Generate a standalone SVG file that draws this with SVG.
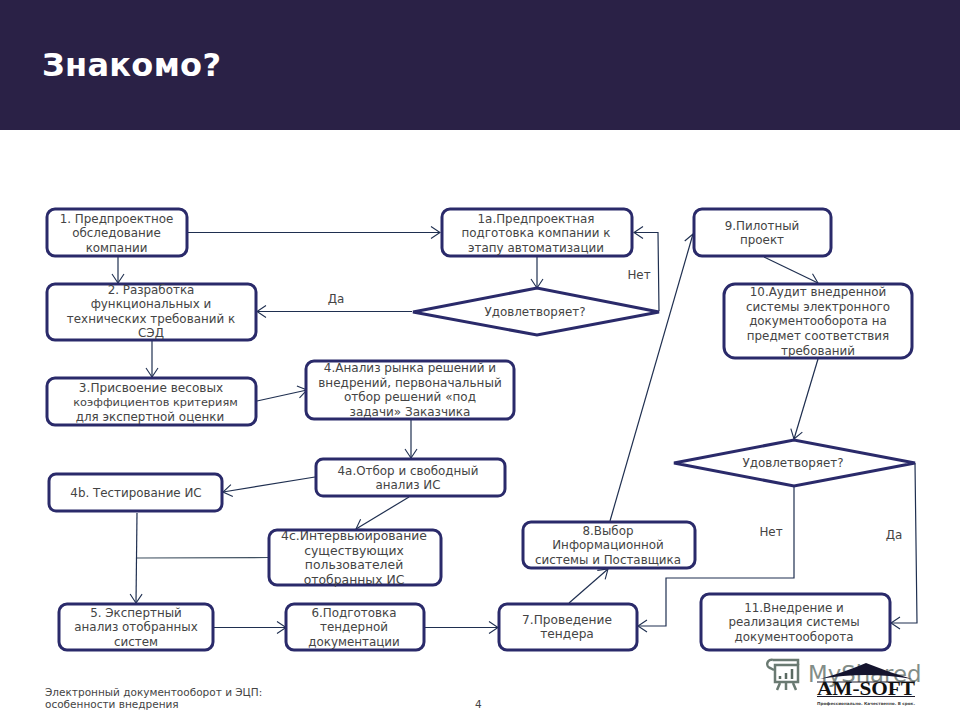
<svg xmlns="http://www.w3.org/2000/svg" width="960" height="720" viewBox="0 0 960 720">
<style>
text{font-family:"DejaVu Sans","Liberation Sans",sans-serif;font-size:11.9px;fill:#444}
.c{text-anchor:middle}
.f{font-size:10.5px}
.n rect,.n polygon{fill:#fff;stroke:#2a2a6a;stroke-width:3;stroke-linejoin:round}
.n polygon{stroke-linejoin:miter}
#connectors path{fill:none;stroke:#1f2f50;stroke-width:1.2;marker-end:url(#a)}
#connectors path.p{marker-end:none;stroke:#3f5060}
</style>
<defs>
<marker id="a" markerUnits="userSpaceOnUse" markerWidth="12" markerHeight="14" refX="10" refY="7" orient="auto">
<path d="M1 1 L10 7 L1 13" fill="none" stroke="#1f2f50" stroke-width="1.1"/>
</marker>
</defs>
<rect width="960" height="720" fill="#fff"/>
<rect id="header" width="960" height="130" fill="#2a2146"/>
<text x="42" y="76" style="font-size:32px;font-weight:bold;fill:#fff;letter-spacing:.3px">Знакомо?</text>

<g id="connectors">
<path d="M187 232.500H440"/>
<path d="M118 257V283"/>
<path d="M412 311.500H257"/>
<path d="M152 341V377"/>
<path d="M257 401L307 390"/>
<path d="M537 257V288"/>
<path d="M659 311L658 232.500H634"/>
<path d="M411 420V458"/>
<path d="M315 477L223 492"/>
<path d="M409 497L356 529"/>
<path class="p" d="M268 557.500L137 558"/>
<path d="M137 513L136 603"/>
<path d="M214 627.500H286"/>
<path d="M425 627.500H498"/>
<path d="M610 521L693 234"/>
<path d="M569 603L608 569"/>
<path d="M764 257L818 283"/>
<path d="M818 359L794 439"/>
<path d="M794 487V578H666V626H638"/>
<path d="M915 463L917 623H891"/>
</g>

<g id="n1" class="n"><rect x="47" y="209" width="140" height="47" rx="8"/>
<text class="c" x="116.500" y="223">1. Предпроектное</text><text class="c" x="116.500" y="237">обследование</text><text class="c" x="116.500" y="252">компании</text></g>
<g id="n1a" class="n"><rect x="442" y="209" width="190" height="47" rx="8"/>
<text class="c" x="536" y="223">1а.Предпроектная</text><text class="c" x="536" y="237">подготовка компании к</text><text class="c" x="536" y="252">этапу автоматизации</text></g>
<g id="n2" class="n"><rect x="47" y="284" width="209" height="56" rx="8"/>
<text class="c" x="151" y="294">2. Разработка</text><text class="c" x="151" y="308">функциональных и</text><text class="c" x="151" y="323">технических требований к</text><text class="c" x="151" y="337">СЭД</text></g>
<g id="d1" class="n"><polygon points="413,312 537,288 659,312 537,335"/>
<text class="c" x="535" y="316">Удовлетворяет?</text></g>
<g id="n3" class="n"><rect x="47" y="378" width="209" height="47" rx="8"/>
<text class="c" x="151" y="392" style="font-size:12.100px">3.Присвоение весовых</text><text class="c" x="155.500" y="406" style="font-size:11.300px">коэффициентов критериям</text><text class="c" x="150" y="421">для экспертной оценки</text></g>
<g id="n4" class="n"><rect x="306" y="361" width="208" height="58" rx="8"/>
<text class="c" x="410" y="372" style="font-size:12px">4.Анализ рынка решений и</text><text class="c" x="410" y="387" style="font-size:12px">внедрений, первоначальный</text><text class="c" x="410" y="401" style="font-size:12px">отбор решений «под</text><text class="c" x="410" y="416" style="font-size:12px">задачи» Заказчика</text></g>
<g id="n4a" class="n"><rect x="316" y="459" width="189" height="37" rx="7"/>
<text class="c" x="408" y="475">4а.Отбор и свободный</text><text class="c" x="408" y="489">анализ ИС</text></g>
<g id="n4b" class="n"><rect x="49" y="474" width="173" height="37" rx="7"/>
<text class="c" x="136" y="497">4b. Тестирование ИС</text></g>
<g id="n4c" class="n"><rect x="269" y="530" width="172" height="55" rx="8"/>
<text class="c" x="354" y="540" style="font-size:12.400px">4с.Интервьюирование</text><text class="c" x="354" y="555" style="font-size:12.400px">существующих</text><text class="c" x="354" y="569" style="font-size:12.400px">пользователей</text><text class="c" x="354" y="584" style="font-size:12.400px">отобранных ИС</text></g>
<g id="n5" class="n"><rect x="59" y="604" width="154" height="46" rx="8"/>
<text class="c" x="136" y="617">5. Экспертный</text><text class="c" x="136" y="631">анализ отобранных</text><text class="c" x="136" y="646">систем</text></g>
<g id="n6" class="n"><rect x="286" y="604" width="138" height="46" rx="8"/>
<text class="c" x="354" y="617">6.Подготовка</text><text class="c" x="354" y="631">тендерной</text><text class="c" x="354" y="646">документации</text></g>
<g id="n7" class="n"><rect x="499" y="604" width="138" height="46" rx="8"/>
<text class="c" x="567" y="624" style="font-size:12.200px">7.Проведение</text><text class="c" x="567" y="638" style="font-size:12.200px">тендера</text></g>
<g id="n8" class="n"><rect x="523" y="522" width="172" height="46" rx="8"/>
<text class="c" x="608" y="535">8.Выбор</text><text class="c" x="608" y="549">Информационной</text><text class="c" x="608" y="564">системы и Поставщика</text></g>
<g id="n9" class="n"><rect x="694" y="209" width="137" height="47" rx="8"/>
<text class="c" x="762" y="230">9.Пилотный</text><text class="c" x="762" y="244">проект</text></g>
<g id="n10" class="n"><rect x="724" y="284" width="188" height="74" rx="11"/>
<text class="c" x="818" y="296">10.Аудит внедренной</text><text class="c" x="818" y="311">системы электронного</text><text class="c" x="818" y="325">документооборота на</text><text class="c" x="818" y="340">предмет соответствия</text><text class="c" x="818" y="355">требований</text></g>
<g id="d2" class="n"><polygon points="674,463 794,440 915,463 794,486"/>
<text class="c" x="793" y="467">Удовлетворяет?</text></g>
<g id="n11" class="n"><rect x="701" y="594" width="189" height="56" rx="8"/>
<text class="c" x="794" y="612">11.Внедрение и</text><text class="c" x="794" y="626">реализация системы</text><text class="c" x="794" y="641">документооборота</text></g>

<text class="c" x="336" y="303">Да</text>
<text class="c" x="639" y="279">Нет</text>
<text class="c" x="771" y="536">Нет</text>
<text class="c" x="894" y="539">Да</text>

<text class="f" x="45" y="696">Электронный документооборот и ЭЦП:</text>
<text class="f" x="45" y="708">особенности внедрения</text>
<text class="f" x="475" y="708">4</text>

<g id="logo">
<g fill="none" stroke="#6a7a72" stroke-width="2.500"><rect x="775" y="665" width="23" height="17"/><path d="M773 660H798V665M773 660a4 4 0 0 0 -3 8l4 2M780 683L777 690M793 683L796 690M786 683V690"/></g>
<path d="M780 679V676M786 679V673M792 679V669" stroke="#5a6a62" stroke-width="2.500"/>
<text x="808" y="682" style="font-size:22.800px;fill:#828d88">MyShared</text>
<path d="M820 679Q845 672 866 663Q888 672 912 679Q866 671 820 679Z" fill="#14142e"/>
<path d="M817 682H915M817 696.500H915" stroke="#1a1a2a" stroke-width="1"/>
<text x="817" y="695" textLength="98" lengthAdjust="spacingAndGlyphs" style="font-family:'Liberation Serif',serif;font-size:18px;font-weight:bold;fill:#111">AM-SOFT</text>
<text x="817" y="705" textLength="98" lengthAdjust="spacingAndGlyphs" style="font-size:4px;font-weight:bold;fill:#444">Профессионально. Качественно. В срок.</text>
</g>
</svg>
